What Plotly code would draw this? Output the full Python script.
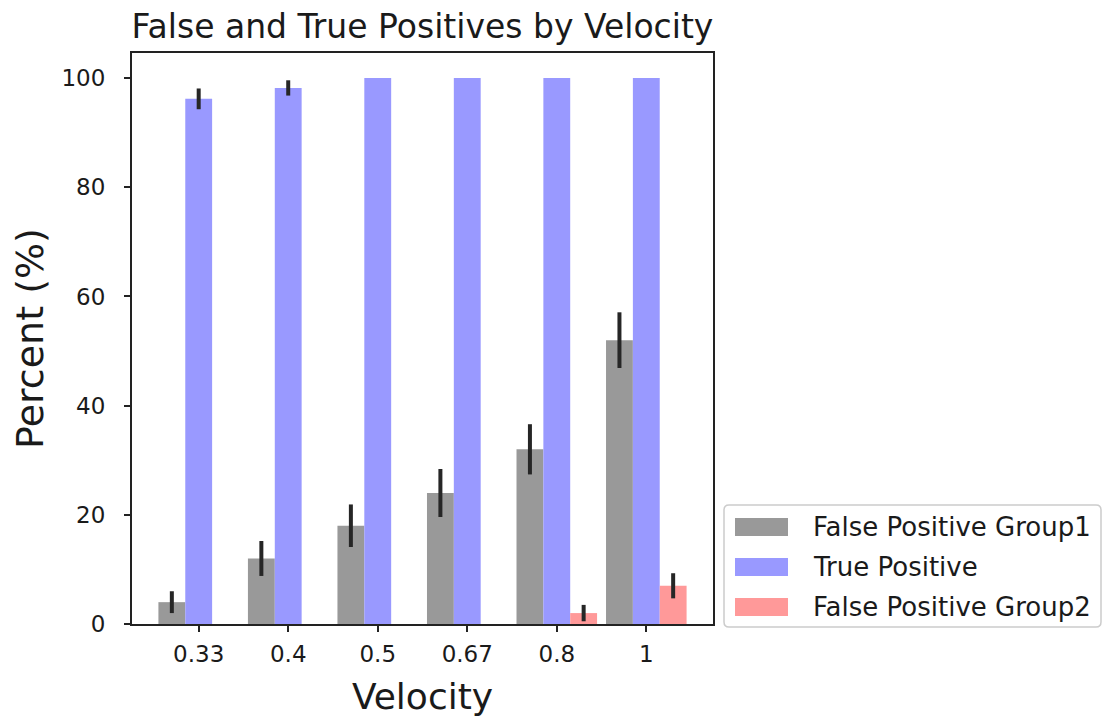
import plotly.graph_objects as go

# Velocity categories and per-series percentages (mean and error)
velocities = ["0.33", "0.4", "0.5", "0.67", "0.8", "1"]
fp_group1 = [4, 12, 18, 24, 32, 52]
fp_group1_err = [2.0, 3.2, 3.9, 4.4, 4.6, 5.1]
true_pos = [96.2, 98.2, 100, 100, 100, 100]
true_pos_err = [1.9, 1.4, 0, 0, 0, 0]
fp_group2 = [0, 0, 0, 0, 2, 7]
fp_group2_err = [0, 0, 0, 0, 1.5, 2.3]

series_names = ["False Positive Group1", "True Positive", "False Positive Group2"]
series_values = [fp_group1, true_pos, fp_group2]
series_errors = [fp_group1_err, true_pos_err, fp_group2_err]
series_colors = ["#999999", "#9999ff", "#ff9999"]

y_ticks = [0, 20, 40, 60, 80, 100]

FONT = "DejaVu Sans"
W, H = 1103, 717
PLOT_L, PLOT_R, PLOT_T, PLOT_B = 132, 713, 53, 624


def px_x(px):
    return (px - PLOT_L) / (PLOT_R - PLOT_L)


def px_y(py):
    return (PLOT_B - py) / (PLOT_B - PLOT_T)


fig = go.Figure()
for name, vals, errs, col in zip(series_names, series_values, series_errors, series_colors):
    fig.add_trace(go.Bar(
        x=velocities, y=vals, name=name,
        marker=dict(color=col, line=dict(width=0)),
        error_y=dict(type="data", array=errs, visible=True,
                     color="#262626", thickness=4, width=0),
        showlegend=False,
    ))

axis_common = dict(
    showline=True, linecolor="#222222", linewidth=2, mirror=True,
    ticks="outside", ticklen=6, tickwidth=1.6, tickcolor="#222222",
    showgrid=False, zeroline=False, automargin=False,
    tickfont=dict(family=FONT, size=23, color="#1a1a1a"),
)

fig.update_layout(
    width=W, height=H, autosize=False,
    margin=dict(l=PLOT_L, r=W - PLOT_R, t=PLOT_T, b=H - PLOT_B),
    paper_bgcolor="white", plot_bgcolor="white",
    barmode="group", bargap=0.1, bargroupgap=0,
    title=dict(text="False and True Positives by Velocity",
               font=dict(family=FONT, size=33, color="#1a1a1a"),
               x=0.5, xref="paper", xanchor="center",
               y=1 - 26 / H, yref="container", yanchor="middle"),
    xaxis=dict(type="category", range=[-0.745, 5.745],
               title=dict(text="Velocity", font=dict(family=FONT, size=36, color="#1a1a1a"),
                          standoff=18),
               ticklabelstandoff=2, **axis_common),
    yaxis=dict(range=[0, 104.6], tickvals=y_ticks,
               title=dict(text="Percent (%)", font=dict(family=FONT, size=38, color="#1a1a1a"),
                          standoff=6),
               ticklabelstandoff=14, **axis_common),
)

# Legend panel drawn to the right of the axes
box_l, box_r, box_t, box_b, rad = 724, 1101, 505, 627, 5


def rounded_rect(l, t, r, b, rr):
    x0, x1 = px_x(l), px_x(r)
    y0, y1 = px_y(b), px_y(t)
    dx = rr / (PLOT_R - PLOT_L)
    dy = rr / (PLOT_B - PLOT_T)
    return (f"M {x0 + dx},{y1} L {x1 - dx},{y1} Q {x1},{y1} {x1},{y1 - dy} "
            f"L {x1},{y0 + dy} Q {x1},{y0} {x1 - dx},{y0} L {x0 + dx},{y0} "
            f"Q {x0},{y0} {x0},{y0 + dy} L {x0},{y1 - dy} Q {x0},{y1} {x0 + dx},{y1} Z")


fig.add_shape(type="path", xref="paper", yref="paper",
              path=rounded_rect(box_l, box_t, box_r, box_b, rad),
              fillcolor="white", line=dict(color="#cccccc", width=1.5), layer="above")

row_centers = [527, 567, 607]
for name, col, cy in zip(series_names, series_colors, row_centers):
    fig.add_shape(type="rect", xref="paper", yref="paper",
                  x0=px_x(735), x1=px_x(788), y0=px_y(cy + 9), y1=px_y(cy - 9),
                  fillcolor=col, line=dict(width=0), layer="above")
    fig.add_annotation(x=px_x(811), y=px_y(cy), xref="paper", yref="paper",
                       text=name, showarrow=False, xanchor="left", yanchor="middle",
                       font=dict(family=FONT, size=26, color="#1a1a1a"))

fig.write_html("out.html")
